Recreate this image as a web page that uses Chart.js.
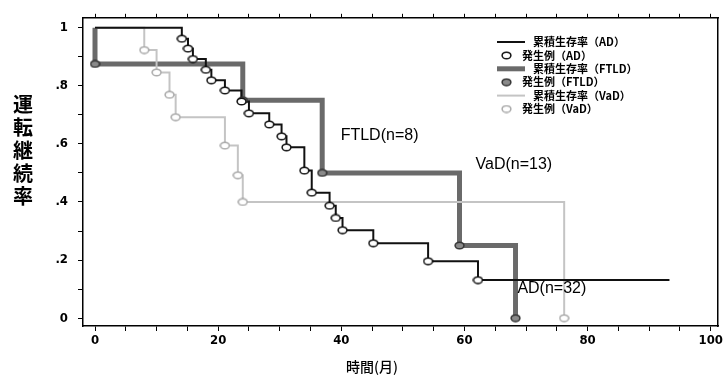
<!DOCTYPE html>
<html>
<head>
<meta charset="utf-8">
<script src="https://cdn.jsdelivr.net/npm/chart.js@4"></script>
<style>
html, body { margin: 0; padding: 0; background: #fff; }
#wrap { position: relative; width: 725px; height: 380px; }
</style>
</head>
<body>
<div id="wrap"><canvas id="kmChart" width="725" height="380"></canvas></div>
<script>
// Kaplan-Meier steps: time in months, cumulative survival
const adTime = [0, 14.1, 15.1, 15.9, 18.0, 18.9, 21.1, 23.8, 25.0, 28.3, 30.3, 31.1, 34.0, 35.2, 38.1, 39.1, 40.2, 45.2, 54.1, 62.2, 93.3];
const adSurv = [1, 0.962, 0.928, 0.892, 0.855, 0.819, 0.784, 0.746, 0.705, 0.667, 0.626, 0.588, 0.508, 0.432, 0.387, 0.345, 0.303, 0.258, 0.196, 0.131, 0.131];
const ftldTime = [0, 0, 24.0, 36.9, 59.2, 68.3];
const ftldSurv = [1, 0.875, 0.75, 0.5, 0.25, 0];
const vadTime = [0, 8.0, 10.0, 12.1, 13.1, 21.1, 23.2, 24.0, 76.2];
const vadSurv = [1, 0.923, 0.846, 0.769, 0.692, 0.594, 0.492, 0.4, 0];

const xTicks = [0, 5, 10, 15, 20, 25, 30, 35, 40, 45, 50, 55, 60, 65, 70, 75, 80, 85, 90, 95, 100];
const yTicks = [0, 0.1, 0.2, 0.3, 0.4, 0.5, 0.6, 0.7, 0.8, 0.9, 1];

const curveLabels = ['FTLD(n=8)', 'VaD(n=13)', 'AD(n=32)'];
const curveLabelX = [39.9, 61.8, 68.6];
const curveLabelY = [0.628, 0.527, 0.101];

const legendLabels = ['累積生存率（AD）', '発生例（AD）', '累積生存率（FTLD）', '発生例（FTLD）', '累積生存率（VaD）', '発生例（VaD）'];

const yTitle = '運転継続率';
const xTitle = '時間(月)';

const numFont = "'DejaVu Sans Condensed', 'Liberation Sans', sans-serif";
const jpFont = "'Noto Sans CJK JP', sans-serif";

function toPoints(t, s) {
    return t.map((v, i) => ({ x: v, y: s[i] }));
}

// circles only where the curve drops
function eventPoints(t, s) {
    let pts = [];
    for (let i = 1; i < t.length; i++) {
        if (s[i] < s[i - 1]) pts.push({ x: t[i], y: s[i] });
    }
    return pts;
}

// small flat ellipse used as marker
function ellipseMarker(stroke, fill) {
    let c = document.createElement('canvas');
    c.width = 11; c.height = 9;
    let g = c.getContext('2d');
    g.beginPath();
    g.ellipse(5.5, 4.5, 4.4, 3.3, 0, 0, Math.PI * 2);
    g.fillStyle = fill;
    g.fill();
    g.lineWidth = 1.5;
    g.strokeStyle = stroke;
    g.stroke();
    return c;
}

const adMarker = ellipseMarker('#111', '#fff');
const ftldMarker = ellipseMarker('#333', '#8a8a8a');
const vadMarker = ellipseMarker('#aaa', '#fff');

const lineStyles = [
    { color: '#111', width: 2 },
    { color: '#6a6a6a', width: 5 },
    { color: '#c4c4c4', width: 2 }
];
const markers = [adMarker, ftldMarker, vadMarker];

function stepLine(t, s, st, order) {
    return {
        data: toPoints(t, s),
        borderColor: st.color,
        borderWidth: st.width,
        stepped: true,
        pointRadius: 0,
        fill: false,
        order: order
    };
}

function markerSet(t, s, marker) {
    return {
        data: eventPoints(t, s),
        showLine: false,
        pointStyle: marker,
        pointRadius: 5,
        order: 0
    };
}

function fixTicks(list) {
    return function (scale) {
        scale.ticks = list.map(v => ({ value: v }));
    };
}

function yLabel(v) {
    let k = Math.round(v * 10);
    if (k % 2) return '';
    if (k === 0) return '0';
    if (k === 10) return '1';
    return '.' + k;
}

// titles, curve names and legend box
const decorPlugin = {
    id: 'decor',
    afterDraw(chart) {
        let ctx = chart.ctx;
        let xs = chart.scales.x, ys = chart.scales.y;
        ctx.save();
        ctx.fillStyle = '#000';

        ctx.font = 'bold 20px ' + jpFont;
        ctx.textAlign = 'center';
        ctx.textBaseline = 'middle';
        [...yTitle].forEach((ch, i) => ctx.fillText(ch, 23, 104 + i * 23));

        ctx.font = '500 14px ' + jpFont;
        ctx.fillText(xTitle, 372, 367);

        ctx.font = "16px 'Liberation Sans', Arial, sans-serif";
        ctx.textAlign = 'left';
        curveLabels.forEach((txt, i) => {
            ctx.fillText(txt, xs.getPixelForValue(curveLabelX[i]), ys.getPixelForValue(curveLabelY[i]));
        });

        // legend
        ctx.font = 'bold 11px ' + jpFont;
        let top = 42, pitch = 13.4;
        legendLabels.forEach((txt, i) => {
            let y = top + i * pitch;
            let k = Math.floor(i / 2);
            if (i % 2 === 0) {
                ctx.strokeStyle = lineStyles[k].color;
                ctx.lineWidth = lineStyles[k].width;
                ctx.beginPath();
                ctx.moveTo(497, y);
                ctx.lineTo(525, y);
                ctx.stroke();
                ctx.fillText(txt, 533, y);
            } else {
                ctx.drawImage(markers[k], 501, y - 4.5);
                ctx.fillText(txt, 522, y);
            }
        });
        ctx.restore();
    }
};

const axisGrid = {
    drawOnChartArea: false,
    color: '#000',
    tickColor: '#000',
    tickLength: 5,
    lineWidth: 1
};

new Chart(document.getElementById('kmChart'), {
    type: 'line',
    data: {
        datasets: [
            stepLine(adTime, adSurv, lineStyles[0], 1),
            stepLine(vadTime, vadSurv, lineStyles[2], 2),
            stepLine(ftldTime, ftldSurv, lineStyles[1], 3),
            markerSet(adTime, adSurv, adMarker),
            markerSet(ftldTime, ftldSurv, ftldMarker),
            markerSet(vadTime, vadSurv, vadMarker)
        ]
    },
    options: {
        responsive: false,
        animation: false,
        events: [],
        layout: { padding: 0 },
        plugins: {
            legend: { display: false },
            tooltip: { enabled: false }
        },
        scales: {
            x: {
                type: 'linear',
                position: 'bottom',
                min: -1.95,
                max: 101.2,
                afterBuildTicks: fixTicks(xTicks),
                afterFit(s) { s.height = 54; },
                grid: axisGrid,
                border: { color: '#000', width: 1.5 },
                ticks: {
                    color: '#000',
                    padding: 2,
                    maxRotation: 0,
                    autoSkip: false,
                    font: { family: numFont, size: 13, weight: 'bold' },
                    callback: v => (v % 20 === 0 ? String(v) : '')
                }
            },
            x2: {
                type: 'linear',
                position: 'top',
                min: -1.95,
                max: 101.2,
                afterBuildTicks: fixTicks(xTicks),
                afterFit(s) { s.height = 12; },
                grid: { drawOnChartArea: false, color: '#000', tickColor: '#000', tickLength: 4, lineWidth: 1 },
                border: { color: '#000', width: 1.5 },
                ticks: { padding: 0, autoSkip: false, maxRotation: 0, font: { size: 1 }, callback: () => '' }
            },
            y: {
                type: 'linear',
                position: 'left',
                min: -0.027,
                max: 1.034,
                afterBuildTicks: fixTicks(yTicks),
                afterFit(s) { s.width = 83; },
                grid: axisGrid,
                border: { color: '#000', width: 1.5 },
                ticks: {
                    color: '#000',
                    padding: 10,
                    autoSkip: false,
                    font: { family: numFont, size: 13, weight: 'bold' },
                    callback: yLabel
                }
            },
            y2: {
                type: 'linear',
                position: 'right',
                min: -0.027,
                max: 1.034,
                afterFit(s) { s.width = 6; },
                grid: { drawOnChartArea: false, drawTicks: false },
                border: { color: '#000', width: 1.5 },
                ticks: { display: false }
            }
        }
    },
    plugins: [decorPlugin]
});
</script>
</body>
</html>
